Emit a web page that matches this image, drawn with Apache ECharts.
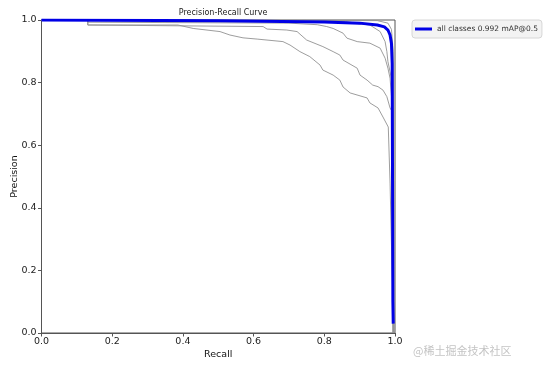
<!DOCTYPE html>
<html>
<head>
<meta charset="utf-8">
<script src="https://cdn.jsdelivr.net/npm/echarts@6/dist/echarts.min.js"></script>
<style>
html,body{margin:0;padding:0;background:#fff;}
#c{width:553px;height:369px;}
</style>
</head>
<body>
<div id="c"></div>
<script>
// ---- data ----
const xTicks = [0.0, 0.2, 0.4, 0.6, 0.8, 1.0];
const yTicks = [0.0, 0.2, 0.4, 0.6, 0.8, 1.0];

const class1Recall    = [0, 0.131, 0.131, 0.386, 0.386, 0.429, 0.505, 0.533, 0.570, 0.610, 0.683, 0.703, 0.731, 0.759, 0.788, 0.796, 0.825, 0.844, 0.853, 0.873, 0.921, 0.929, 0.952, 0.966, 0.981, 0.986, 0.991, 0.997];
const class1Precision = [1, 1.000, 0.984, 0.984, 0.978, 0.973, 0.963, 0.952, 0.943, 0.939, 0.931, 0.920, 0.899, 0.883, 0.856, 0.840, 0.824, 0.808, 0.786, 0.767, 0.751, 0.735, 0.719, 0.690, 0.658, 0.479, 0.233, 0.0];

const class2Recall    = [0, 0.131, 0.131, 0.627, 0.638, 0.694, 0.723, 0.750, 0.796, 0.825, 0.844, 0.853, 0.893, 0.901, 0.921, 0.937, 0.952, 0.966, 0.977, 0.986, 0.992, 0.994];
const class2Precision = [1, 1.000, 0.984, 0.979, 0.971, 0.968, 0.963, 0.936, 0.915, 0.899, 0.888, 0.872, 0.846, 0.824, 0.808, 0.792, 0.787, 0.776, 0.755, 0.719, 0.707, 0.0];

const class3Recall    = [0, 0.131, 0.131, 0.700, 0.780, 0.807, 0.825, 0.853, 0.864, 0.893, 0.929, 0.958, 0.972, 0.980, 0.986, 0.991, 0.995];
const class3Precision = [1, 1.000, 0.993, 0.990, 0.985, 0.979, 0.973, 0.958, 0.942, 0.931, 0.926, 0.910, 0.878, 0.846, 0.814, 0.744, 0.0];

const class4Recall    = [0, 0.860, 0.893, 0.929, 0.958, 0.972, 0.977, 0.980, 0.986, 0.991, 0.995];
const class4Precision = [1, 0.995, 0.989, 0.984, 0.963, 0.931, 0.899, 0.867, 0.835, 0.803, 0.0];

const class5Recall    = [0, 0.950, 0.980, 0.990, 0.995, 0.997];
const class5Precision = [1, 0.998, 0.990, 0.970, 0.900, 0.0];

const allRecall    = [0, 0.500, 0.800, 0.900, 0.950, 0.970, 0.980, 0.986, 0.990, 0.992, 0.993, 0.994, 0.995];
const allPrecision = [1, 0.998, 0.994, 0.990, 0.984, 0.978, 0.968, 0.952, 0.925, 0.860, 0.500, 0.100, 0.030];

const allLabel = 'all classes 0.992 mAP@0.5';
const titleText = 'Precision-Recall Curve';
const xName = 'Recall';
const yName = 'Precision';
const watermark = '@稀土掘金技术社区';

function zip(a, b) { return a.map((v, i) => [v, b[i]]); }

const grayClasses = [
  [class1Recall, class1Precision],
  [class2Recall, class2Precision],
  [class3Recall, class3Precision],
  [class4Recall, class4Precision],
  [class5Recall, class5Precision]
];

const series = grayClasses.map((c, i) => ({
  name: 'c' + i,
  type: 'line',
  data: zip(c[0], c[1]),
  symbol: 'none',
  lineStyle: { color: '#929292', width: 0.9 },
  z: 2,
  silent: true
}));
series.push({
  name: allLabel,
  type: 'line',
  data: zip(allRecall, allPrecision),
  symbol: 'none',
  lineStyle: { color: '#0000e6', width: 3 },
  itemStyle: { color: '#0000e6' },
  z: 3
});

const font = 'DejaVu Sans';
const chart = echarts.init(document.getElementById('c'), null, { renderer: 'canvas' });
chart.setOption({
  animation: false,
  backgroundColor: '#ffffff',
  textStyle: { fontFamily: font },
  title: {
    text: titleText,
    left: 218, top: 4, textAlign: 'center',
    textStyle: { fontSize: 8, fontWeight: 'normal', color: '#222', fontFamily: font }
  },
  legend: {
    data: [allLabel],
    left: 412, top: 20,
    orient: 'vertical',
    itemWidth: 17, itemHeight: 3, itemGap: 4,
    icon: 'rect',
    textStyle: { fontSize: 7.5, color: '#333', fontFamily: font },
    backgroundColor: 'rgba(240,240,240,0.8)',
    borderColor: '#d6d6d6', borderWidth: 1, borderRadius: 3,
    padding: [5, 4, 5, 3]
  },
  grid: {
    left: 41.5, right: 158, top: 20, bottom: 36,
    outerBoundsMode: 'none',
    containLabel: false,
    show: true, borderColor: '#555', borderWidth: 1, backgroundColor: '#fff'
  },
  xAxis: {
    type: 'value', min: 0, max: 1, interval: 0.2,
    name: xName, nameLocation: 'middle', nameGap: 17,
    nameMoveOverlap: false,
    nameTextStyle: { fontSize: 9.5, color: '#111', fontFamily: font },
    axisLine: { show: true, lineStyle: { color: '#555', width: 1 } },
    axisTick: { show: true, inside: false, length: 3.5, lineStyle: { color: '#555' } },
    axisLabel: { fontSize: 9.5, color: '#222', margin: 4, fontFamily: font,
      formatter: v => v.toFixed(1) },
    splitLine: { show: false }
  },
  yAxis: {
    type: 'value', min: 0, max: 1, interval: 0.2,
    name: yName, nameLocation: 'middle', nameGap: 21.5, nameRotate: 90,
    nameMoveOverlap: false,
    nameTextStyle: { fontSize: 9.5, color: '#111', fontFamily: font },
    axisLine: { show: true, lineStyle: { color: '#555', width: 1 } },
    axisTick: { show: true, inside: false, length: 3.5, lineStyle: { color: '#555' } },
    axisLabel: { fontSize: 9.5, color: '#222', margin: 5, fontFamily: font,
      formatter: v => v.toFixed(1) },
    splitLine: { show: false }
  },
  graphic: [{
    type: 'text', left: 413, top: 345,
    style: { text: watermark, fontSize: 11, fill: '#c4c4c4', fontFamily: '"Noto Sans CJK SC", sans-serif' }
  }],
  series: series
});
</script>
</body>
</html>
